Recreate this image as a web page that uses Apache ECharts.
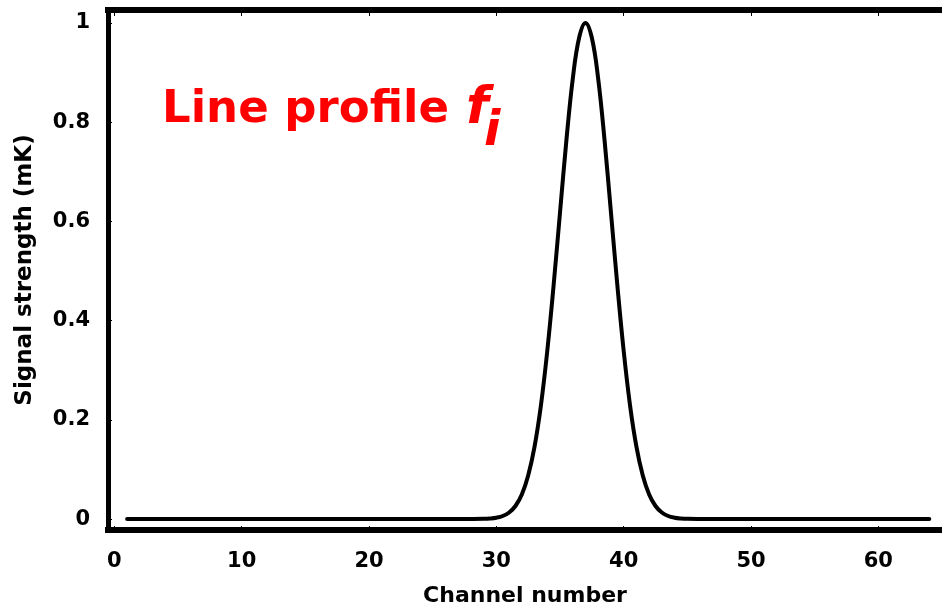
<!DOCTYPE html>
<html>
<head>
<meta charset="utf-8">
<script src="https://cdn.jsdelivr.net/npm/echarts@6/dist/echarts.min.js"></script>
<style>
html,body{margin:0;padding:0;background:#fff;}
#chart{width:942px;height:612px;}
</style>
</head>
<body>
<div id="chart"></div>
<script>
// Channel numbers (finer sampling around the peak)
var channel = [1,2,3,4,5,6,7,8,9,10,11,12,13,14,15,16,17,18,19,20,21,22,23,24,25,26,27,28,29,
  29.5,30,30.5,31,31.5,32,32.5,33,33.5,34,34.5,35,35.5,36,36.5,37,37.5,38,38.5,39,39.5,40,40.5,41,41.5,42,42.5,43,43.5,44,44.5,
  45,46,47,48,49,50,51,52,53,54,55,56,57,58,59,60,61,62,63,64];
// Signal strength (mK)
var signal = [0,0,0,0,0,0,0,0,0,0,0,0,0,0,0,0,0,0,0,0,0,0,0,0,0,0,0,0.0001,0.0005,
  0.0012,0.0028,0.0062,0.0132,0.0264,0.0496,0.0877,0.146,0.229,0.339,0.472,0.618,0.763,0.887,0.970,1.0,0.970,0.887,0.763,0.618,0.472,0.339,0.229,0.146,0.0877,0.0496,0.0264,0.0132,0.0062,0.0028,0.0012,
  0.0005,0.0001,0,0,0,0,0,0,0,0,0,0,0,0,0,0,0,0,0,0];
var xTicks = [0,10,20,30,40,50,60];
var xMinorTicks = [0,2,4,6,8,10,12,14,16,18,20,22,24,26,28,30,32,34,36,38,40,42,44,46,48,50,52,54,56,58,60,62,64];
var yTicks = [0,0.2,0.4,0.6,0.8,1];
var xTitle = 'Channel number';
var yTitle = 'Signal strength (mK)';
var annotation = 'Line profile';

var FONT = '"DejaVu Sans", "Liberation Sans", Arial, sans-serif';
var chart = echarts.init(document.getElementById('chart'), null, {renderer:'canvas'});
var xMin = -0.5, xMax = 65, yMin = -0.022, yMax = 1.026;

chart.setOption({
  animation: false,
  backgroundColor: '#ffffff',
  grid: {left: 108, top: 10, right: -8, bottom: 78, containLabel: false},
  xAxis: [
    {
      type: 'value', position: 'bottom', min: xMin, max: xMax,
      axisLine: {show: true, onZero: false, lineStyle: {color: '#000', width: 6, cap: 'square'}},
      axisTick: {show: true, inside: true, length: 4, customValues: xTicks, lineStyle: {color: '#000', width: 1}},
      axisLabel: {show: true, customValues: xTicks, margin: 21, color: '#000', fontFamily: FONT, fontWeight: 'bold', fontSize: 21},
      splitLine: {show: false},
      name: xTitle, nameLocation: 'middle', nameGap: 55,
      nameTextStyle: {color: '#000', fontFamily: FONT, fontWeight: 'bold', fontSize: 22}
    },
    {
      type: 'value', position: 'top', min: xMin, max: xMax,
      axisLine: {show: true, onZero: false, lineStyle: {color: '#000', width: 6, cap: 'square'}},
      axisTick: {show: true, inside: true, length: 3, customValues: xMinorTicks, lineStyle: {color: '#000', width: 1}},
      axisLabel: {show: false},
      splitLine: {show: false}
    },
    {
      type: 'value', position: 'top', min: xMin, max: xMax,
      axisLine: {show: false, onZero: false},
      axisTick: {show: true, inside: true, length: 6, customValues: xTicks, lineStyle: {color: '#000', width: 1}},
      axisLabel: {show: false},
      splitLine: {show: false}
    }
  ],
  yAxis: [
    {
      type: 'value', min: yMin, max: yMax,
      axisLine: {show: true, onZero: false, lineStyle: {color: '#000', width: 5, cap: 'square'}},
      axisTick: {show: true, inside: true, length: 4, customValues: yTicks, lineStyle: {color: '#000', width: 1}},
      axisLabel: {show: true, customValues: yTicks, margin: 18, color: '#000', fontFamily: FONT, fontWeight: 'bold', fontSize: 21},
      splitLine: {show: false},
      name: yTitle, nameLocation: 'middle', nameGap: 71, nameRotate: 90,
      nameTextStyle: {color: '#000', fontFamily: FONT, fontWeight: 'bold', fontSize: 23}
    }
  ],
  graphic: [
    {type: 'text', silent: true, style: {x: 162, y: 110, text: annotation, fill: '#ff0000', font: 'bold 45px ' + FONT, verticalAlign: 'middle', align: 'left'}},
    {type: 'text', silent: true, style: {x: 466, y: 109, text: 'f', fill: '#ff0000', font: 'italic bold 52px ' + FONT, verticalAlign: 'middle', align: 'left'}},
    {type: 'text', silent: true, style: {x: 484, y: 133, text: 'i', fill: '#ff0000', font: 'italic bold 48px ' + FONT, verticalAlign: 'middle', align: 'left'}}
  ],
  series: [
    {
      type: 'line', xAxisIndex: 0, yAxisIndex: 0,
      data: channel.map(function (c, i) { return [c, signal[i]]; }),
      showSymbol: false, symbol: 'none', smooth: 0.4,
      lineStyle: {color: '#000', width: 4, cap: 'round', join: 'round'},
      clip: false
    }
  ]
});
</script>
</body>
</html>
